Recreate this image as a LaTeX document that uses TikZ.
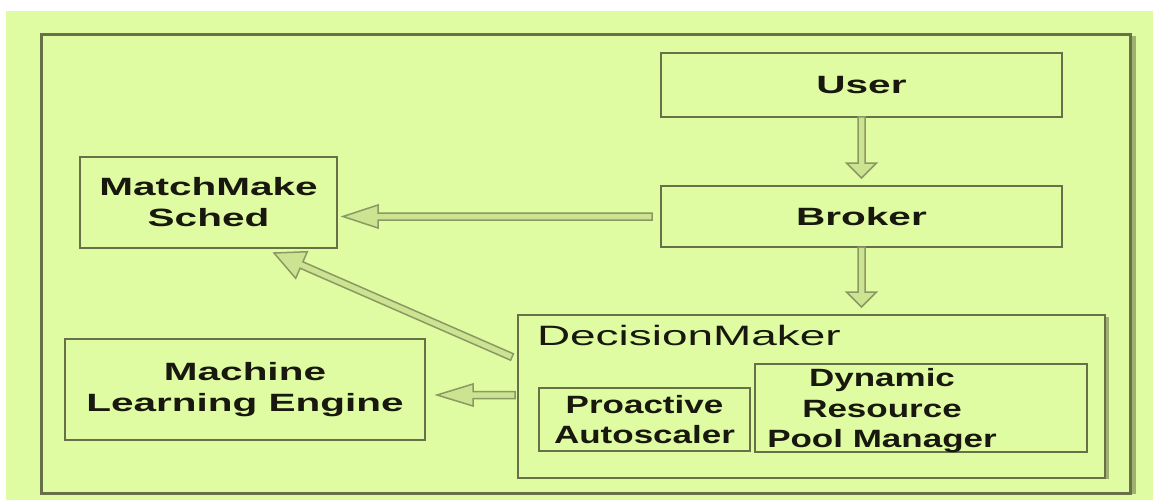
\documentclass[tikz,border=0pt]{standalone}
\usepackage{fontspec}
\setmainfont{Liberation Sans}
\newfontfamily\wideA[FakeStretch=1.62]{Liberation Sans}
\newfontfamily\wideB[FakeStretch=1.4]{Liberation Sans}
\newfontfamily\wideC[FakeStretch=1.64]{Liberation Sans}
\usetikzlibrary{calc}
\definecolor{bgc}{RGB}{224,252,162}
\definecolor{linec}{RGB}{104,112,72}
\definecolor{shadec}{RGB}{160,176,112}
\definecolor{arrline}{RGB}{138,152,98}
\definecolor{arrfill}{RGB}{204,228,146}
\definecolor{txtc}{RGB}{24,24,14}
\tikzset{
  box/.style={draw=linec, line width=2.5pt, inner sep=0pt, outer sep=0pt, align=center,
    text=txtc, font=\wideA\bfseries\fontsize{25}{31}\selectfont},
  innerbox/.style={draw=linec, line width=2.5pt, inner sep=0pt, outer sep=0pt, align=center,
    text=txtc, font=\wideB\bfseries\fontsize{25}{30.5}\selectfont},
  plaintxt/.style={inner sep=0pt, outer sep=0pt, align=center, text=txtc},
  arrsty/.style={draw=arrline, fill=arrfill, line width=1.5pt, line join=miter}
}
\newcommand\fatarrow[5]{%
  \path ($(#2)!#3!(#1)$) coordinate (hb);
  \draw[arrsty] ($(#1)!#5!90:(#2)$) -- ($(hb)!#5!90:(#2)$) -- ($(hb)!#4!90:(#2)$) -- (#2)
    -- ($(hb)!#4!-90:(#2)$) -- ($(hb)!#5!-90:(#2)$) -- ($(#1)!#5!-90:(#2)$) -- cycle;}
\begin{document}
\begin{tikzpicture}[x=1pt,y=-1pt]
\useasboundingbox (0,0) rectangle (1153,500);
\fill[white] (0,0) rectangle (1153,500);
\fill[bgc] (6,11) rectangle (1153,500);
% outer frame
\draw[shadec, line width=5pt] (1133,36) -- (1133,494);
\draw[linec, line width=3pt] (41,35) rectangle (1130,493);

% boxes
\node[box, minimum width=401pt, minimum height=64pt] (user) at (861.5,85) {User};
\node[box, minimum width=401pt, minimum height=61pt] (broker) at (861.5,216.5) {Broker};
\node[box, minimum width=257pt, minimum height=91pt] (mm) at (208.5,202.5) {MatchMake\\Sched};
\node[box, minimum width=360pt, minimum height=101pt] (ml) at (245,389.5) {Machine\\Learning Engine};
\node[draw=linec, line width=2.5pt, inner sep=0pt, outer sep=0pt, minimum width=587pt, minimum height=163pt] (dm) at (811.5,396.5) {};
\draw[shadec, line width=3pt] (1107.5,317) -- (1107.5,479);
\node[plaintxt, anchor=base west, font=\wideC\fontsize{28}{34}\selectfont] (dmt) at (537,345) {DecisionMaker};
\node[innerbox, minimum width=211pt, minimum height=63pt] (pa) at (644.5,419.5) {Proactive\\Autoscaler};
\node[draw=linec, line width=2.5pt, inner sep=0pt, outer sep=0pt, minimum width=332pt, minimum height=88pt] (drpm) at (921,408) {};
\node[plaintxt, font=\wideB\bfseries\fontsize{25}{30.5}\selectfont] (drpmt) at (882,411) {Dynamic\\Resource\\Pool Manager};

% connector end points
\coordinate (a1s) at (user.south);
\coordinate (a1e) at ($(broker.north)+(0,-8)$);
\coordinate (a2s) at (broker.south);
\coordinate (a2e) at ($(broker.south |- dm.north)+(0,-8)$);
\coordinate (a3s) at ($(broker.west)+(-9,0)$);
\coordinate (a3e) at ($(mm.east |- broker.west)+(6,0)$);
\coordinate (a4s) at ($(dm.north west)+(-6,42)$);
\coordinate (a4e) at ($(mm.south)+(65.5,5)$);
\coordinate (a5s) at ($(dm.west)+(-3,-1.5)$);
\coordinate (a5e) at ($(ml.east |- a5s)+(12,0)$);

% connectors
\fatarrow{a1s}{a1e}{15pt}{15pt}{3.5pt}
\fatarrow{a2s}{a2e}{15pt}{15pt}{3.5pt}
\fatarrow{a3s}{a3e}{35pt}{11.5pt}{3.5pt}
\fatarrow{a4s}{a4e}{30pt}{14.5pt}{3.5pt}
\fatarrow{a5s}{a5e}{36pt}{11pt}{3.5pt}
\end{tikzpicture}
\end{document}
